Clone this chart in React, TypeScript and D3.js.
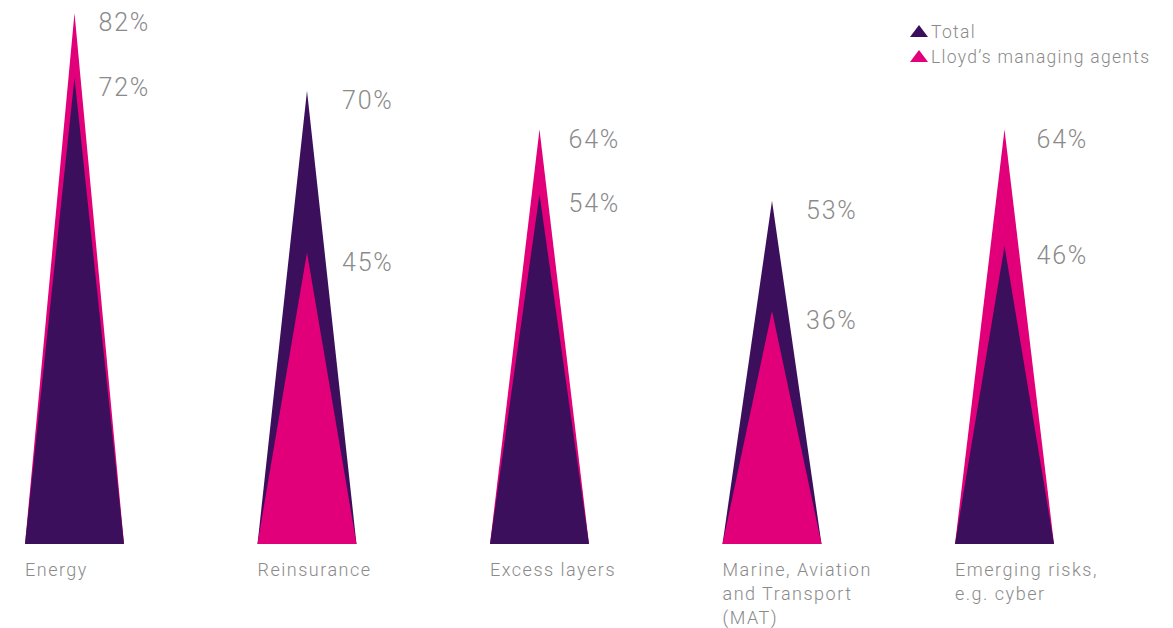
import React from "react";
import * as d3 from "d3";

const categories: string[][] = [
  ["Energy"],
  ["Reinsurance"],
  ["Excess layers"],
  ["Marine, Aviation", "and Transport", "(MAT)"],
  ["Emerging risks,", "e.g. cyber"],
];
const totalValues = [72, 70, 54, 53, 46];
const lloydsValues = [82, 45, 64, 36, 64];
const seriesNames = ["Total", "Lloyd\u2019s managing agents"];
const colors = ["#3c0f5c", "#e2007a"];
// horizontal gap between peak and its value label, per group (layout)
const labelGaps = [24, 35, 29, 34, 32];

const W = 1173;
const H = 628;
const baseY = 544;

export default function App() {
  const y = d3.scaleLinear().domain([0, 82]).range([baseY, 13]);
  const step = 232.5;
  const bw = 99;
  const x = d3
    .scaleBand<number>()
    .domain(d3.range(categories.length))
    .range([25, 25 + step * 4 + bw])
    .paddingInner((step - bw) / step)
    .paddingOuter(0);
  const grey = "#8a8a8a";
  const font = "Roboto, Arial, sans-serif";

  return (
    <svg
      width={W}
      height={H}
      style={{ position: "absolute", left: 0, top: 0, background: "#fff" }}
      fontFamily={font}
    >
      {categories.map((cat, i) => {
        const x0 = x(i) as number;
        const w = x.bandwidth();
        const series = [
          { v: totalValues[i], c: colors[0] },
          { v: lloydsValues[i], c: colors[1] },
        ].sort((a, b) => b.v - a.v);
        return (
          <g key={i}>
            {series.map((s, j) => (
              <path
                key={j}
                d={`M${x0},${baseY}L${x0 + w / 2},${y(s.v)}L${x0 + w},${baseY}Z`}
                fill={s.c}
              />
            ))}
            {series.map((s, j) => (
              <text
                key={"t" + j}
                x={x0 + w / 2 + labelGaps[i]}
                y={y(s.v) + 18}
                fontSize={25}
                letterSpacing={1.8}
                fill={grey}
                fontWeight={300}
              >
                {s.v}%
              </text>
            ))}
            {cat.map((line, k) => (
              <text
                key={"c" + k}
                x={x0}
                y={576 + k * 24}
                fontSize={18}
                letterSpacing={1.5}
                fill={grey}
                fontWeight={300}
              >
                {line}
              </text>
            ))}
          </g>
        );
      })}
      {seriesNames.map((n, i) => (
        <g key={n} transform={`translate(910, ${25 + i * 25})`}>
          <path d="M0,12L9,0L18,12Z" fill={colors[i]} />
          <text
            x={21}
            y={12.5}
            fontSize={17.5}
            letterSpacing={1.3}
            fill={grey}
            fontWeight={300}
          >
            {n}
          </text>
        </g>
      ))}
    </svg>
  );
}
